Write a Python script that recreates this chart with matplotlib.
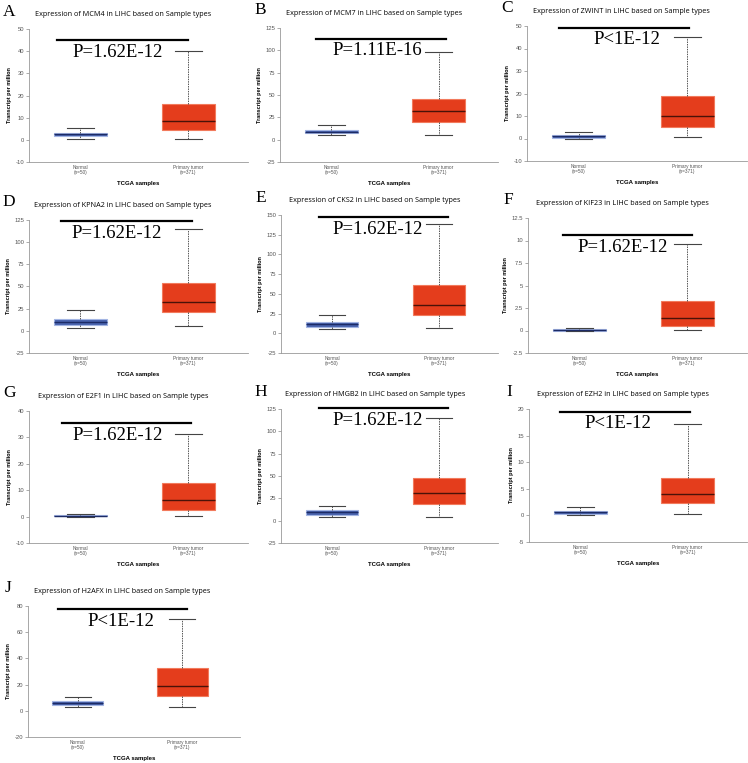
import matplotlib
matplotlib.use('Agg')
import matplotlib.pyplot as plt
from matplotlib.ticker import FormatStrFormatter
import numpy as np

##########################################
## Data             ##
##########################################

letters = ['A', 'B', 'C', 'D', 'E', 'F', 'G', 'H', 'I', 'J']
genes = ['MCM4', 'MCM7', 'ZWINT', 'KPNA2', 'CKS2', 'KIF23', 'E2F1', 'HMGB2', 'EZH2', 'H2AFX']
p_labels = ['P=1.62E-12', 'P=1.11E-16', 'P<1E-12', 'P=1.62E-12', 'P=1.62E-12',
            'P=1.62E-12', 'P=1.62E-12', 'P=1.62E-12', 'P<1E-12', 'P<1E-12']
groups = ['Normal\n(n=50)', 'Primary tumor\n(n=371)']

# normal samples: lower whisker, q1, median, q3, upper whisker
normal_low = [0.6, 5.2, 0.0, 3.0, 5.5, 0.0, 0.0, 4.1, 0.1, 2.8]
normal_q1 = [1.8, 7.1, 0.4, 6.4, 8.0, 0.0, 0.15, 6.7, 0.35, 4.3]
normal_med = [2.6, 9.0, 1.0, 9.8, 11.4, 0.06, 0.4, 9.4, 0.6, 5.8]
normal_q3 = [3.3, 11.2, 1.5, 13.6, 14.3, 0.17, 0.6, 12.0, 0.9, 7.4]
normal_high = [5.4, 16.0, 2.7, 23.0, 23.2, 0.28, 0.9, 16.5, 1.5, 10.9]

# primary tumor samples
tumor_low = [0.6, 5.2, 0.7, 4.9, 6.7, 0.06, 0.4, 4.5, 0.3, 2.8]
tumor_q1 = [4.5, 19.4, 4.9, 20.7, 23.6, 0.54, 2.6, 19.0, 2.4, 11.4]
tumor_med = [8.5, 32.0, 9.9, 32.8, 35.8, 1.43, 6.2, 31.0, 4.1, 19.3]
tumor_q3 = [16.3, 45.9, 18.9, 54.3, 60.7, 3.24, 12.7, 48.3, 7.0, 32.7]
tumor_high = [40.3, 98.0, 44.9, 114.6, 138.3, 9.65, 31.4, 114.8, 17.2, 70.0]

# y axis range and tick step
y_lo = [-10, -25, -10, -25, -25, -2.5, -10, -25, -5, -20]
y_hi = [50, 125, 50, 125, 150, 12.5, 40, 125, 20, 80]
y_step = [10, 25, 10, 25, 25, 2.5, 10, 25, 5, 20]

# height of the significance bar
bar_y = [45, 113, 49.3, 123.6, 147, 10.57, 35.4, 126, 19.5, 77.4]

##########################################
## Layout (pixels: left, top, right, bottom)
##########################################

W, H = 748, 763
axes_px = [
    (29, 29, 248, 162), (280, 28, 498, 162), (527, 26, 747, 161),
    (29, 220, 248, 353), (281, 215, 498, 353), (528, 218, 747, 353),
    (29, 411, 248, 543), (281, 409, 498, 543), (529, 409, 747, 542),
    (28, 606, 240, 737),
]
# bar extent and p-text centre, in axes fraction
bar_x0 = [0.13, 0.163, 0.147, 0.145, 0.174, 0.16, 0.15, 0.175, 0.14, 0.14]
bar_x1 = [0.726, 0.76, 0.736, 0.745, 0.77, 0.75, 0.74, 0.77, 0.74, 0.75]
p_x = [0.406, 0.445, 0.455, 0.40, 0.447, 0.434, 0.406, 0.447, 0.41, 0.44]

fig = plt.figure(figsize=(W / 100, H / 100), dpi=100)

sans = ['Liberation Sans', 'DejaVu Sans']
serif = ['Liberation Serif', 'DejaVu Serif']

for i in range(len(genes)):
    l, t, r, b = axes_px[i]
    ax = fig.add_axes([l / W, 1 - b / H, (r - l) / W, (b - t) / H])

    stats = [
        dict(whislo=normal_low[i], q1=normal_q1[i], med=normal_med[i],
             q3=normal_q3[i], whishi=normal_high[i], fliers=[]),
        dict(whislo=tumor_low[i], q1=tumor_q1[i], med=tumor_med[i],
             q3=tumor_q3[i], whishi=tumor_high[i], fliers=[]),
    ]
    bp = ax.bxp(stats, positions=[1, 2], widths=0.49, capwidths=0.25,
                patch_artist=True, showfliers=False,
                whiskerprops=dict(color='#555555', linestyle=(0, (1.5, 1)), linewidth=0.7),
                capprops=dict(color='#444444', linewidth=0.8),
                medianprops=dict(linewidth=1.0))
    box_fill = ['#4862ad', '#e43d1c']
    box_edge = ['#a3b5e3', '#f27a5c']
    med_col = ['#1c2b66', '#4a1208']
    for k in range(2):
        bp['boxes'][k].set_facecolor(box_fill[k])
        bp['boxes'][k].set_edgecolor(box_edge[k])
        bp['boxes'][k].set_linewidth(0.8)
        bp['medians'][k].set_color(med_col[k])

    ax.set_xlim(0.523, 2.553)
    ax.set_ylim(y_lo[i], y_hi[i])
    ax.set_yticks(np.arange(y_lo[i], y_hi[i] + y_step[i] / 2, y_step[i]))
    ax.yaxis.set_major_formatter(FormatStrFormatter('%g'))
    ax.set_xticks([1, 2])
    ax.set_xticklabels(groups, fontsize=3.4, color='#555555', family=sans, linespacing=1.1)
    ax.tick_params(axis='x', length=0, pad=2)
    ax.tick_params(axis='y', length=2, width=0.5, color='#888888', labelsize=4.2,
                   labelcolor='#555555', pad=1.5)
    for lab in ax.get_yticklabels():
        lab.set_family(sans)
    for s in ['top', 'right']:
        ax.spines[s].set_visible(False)
    for s in ['left', 'bottom']:
        ax.spines[s].set_color('#999999')
        ax.spines[s].set_linewidth(0.6)
    ax.patch.set_alpha(0)

    ax.set_ylabel('Transcript per million', fontsize=4, fontweight='bold', family=sans, labelpad=2.5)
    ax.set_xlabel('TCGA samples', fontsize=4.3, fontweight='bold', family=sans, labelpad=4)

    # significance bar and p value
    ax.plot([bar_x0[i], bar_x1[i]], [bar_y[i], bar_y[i]], transform=ax.get_yaxis_transform(),
            color='black', linewidth=1.6, clip_on=False)
    ax.annotate(p_labels[i], xy=(p_x[i], bar_y[i]), xycoords=ax.get_yaxis_transform(),
                xytext=(0, -2.5), textcoords='offset points', ha='center', va='top',
                fontsize=13.5, family=serif, annotation_clip=False)

    # title and panel letter
    ty = t - 14.5
    fig.text((l + 94) / W, 1 - ty / H,
             'Expression of %s in LIHC based on Sample types' % genes[i],
             ha='center', va='center', fontsize=5.2, family=['Open Sans', 'DejaVu Sans'])
    fig.text((l - 20) / W, 1 - (ty - 3) / H, letters[i], ha='center', va='center',
             fontsize=12.5, family=serif)

fig.savefig('out.png', dpi=100)
